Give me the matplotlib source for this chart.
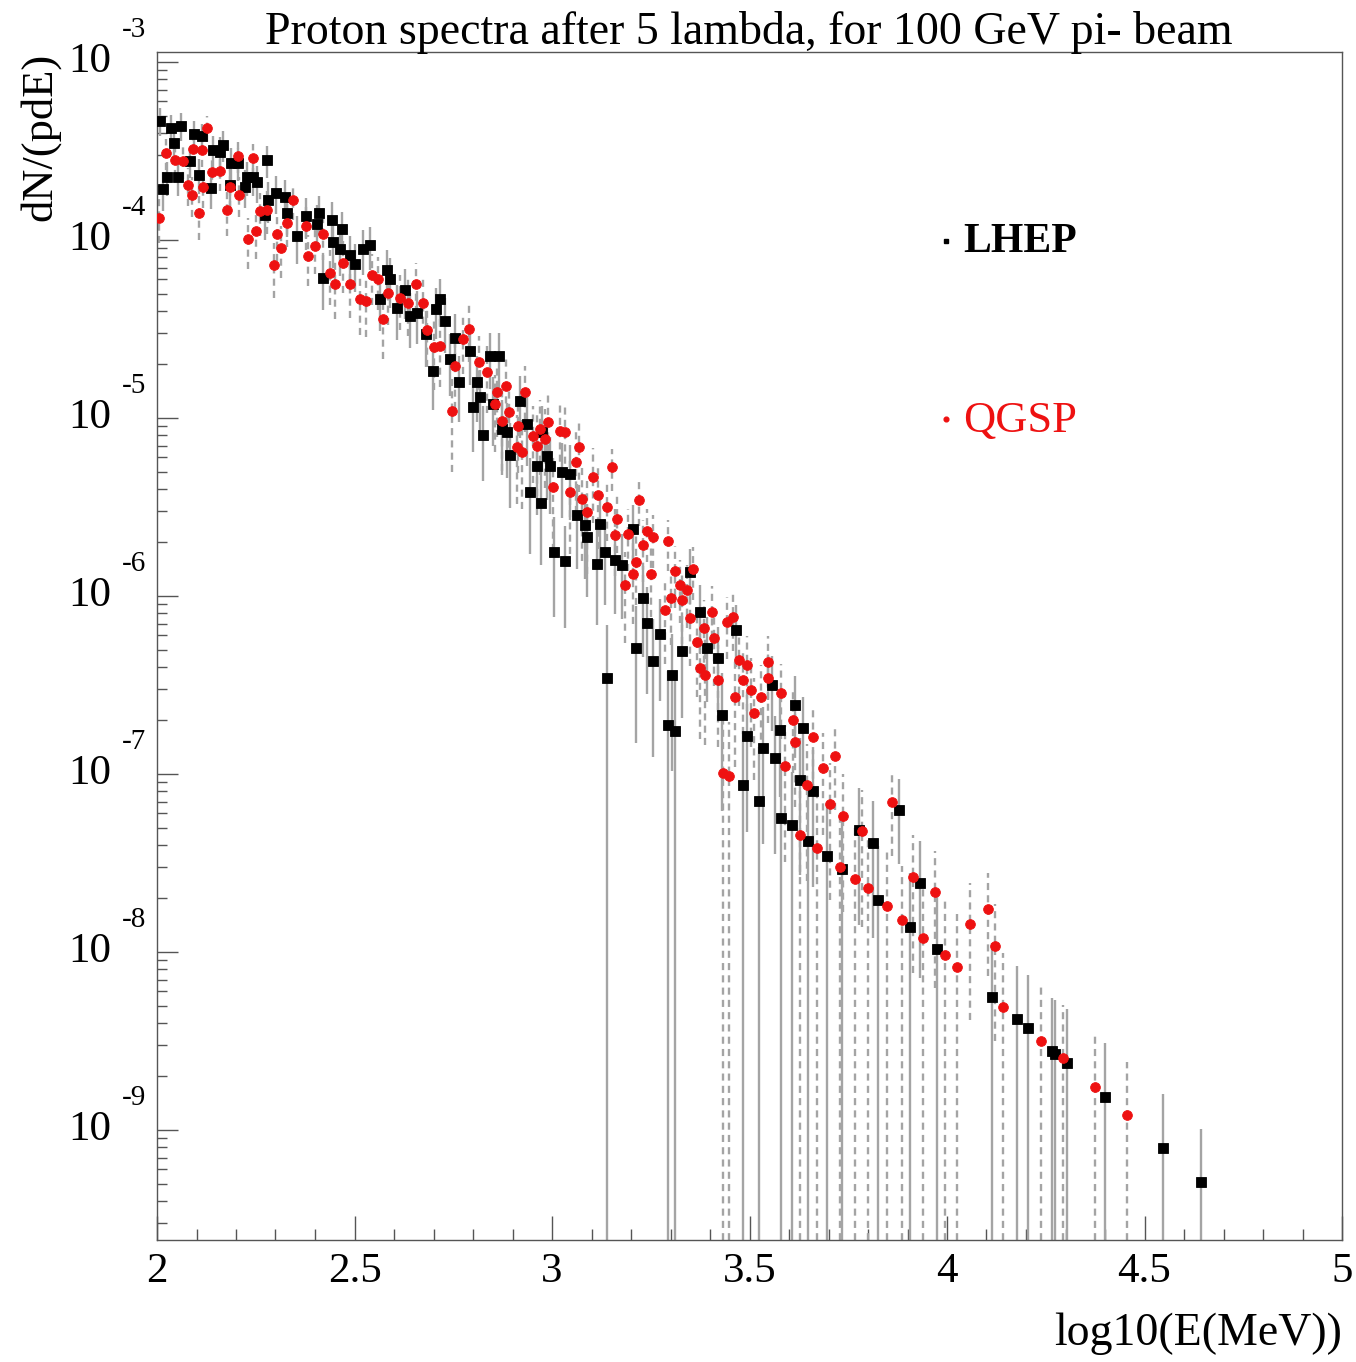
import numpy as np
import matplotlib
matplotlib.use("Agg")
import matplotlib.pyplot as plt
from matplotlib import transforms
from matplotlib.ticker import LogLocator, MultipleLocator, NullFormatter, FixedLocator

# ---------------- data ----------------
title = "Proton spectra after 5 lambda, for 100 GeV pi- beam"
xlabel = "log10(E(MeV))"
ylabel = "dN/(pdE)"
series_names = ["LHEP", "QGSP"]
x_ticks = [2, 2.5, 3, 3.5, 4, 4.5, 5]
x_tick_labels = ["2", "2.5", "3", "3.5", "4", "4.5", "5"]
y_decades = [-9, -8, -7, -6, -5, -4, -3]

# LHEP: log10(E) bin positions, log10(dN/(pdE)), relative errors
lhep_x = [2.008, 2.016, 2.026, 2.035, 2.043, 2.054, 2.062, 2.084, 2.094, 2.107,
          2.113, 2.136, 2.141, 2.159, 2.166, 2.185, 2.187, 2.206, 2.224, 2.227,
          2.242, 2.252, 2.273, 2.278, 2.282, 2.301, 2.324, 2.328, 2.354, 2.377,
          2.404, 2.411, 2.421, 2.442, 2.445, 2.463, 2.468, 2.489, 2.501, 2.522,
          2.539, 2.565, 2.583, 2.590, 2.607, 2.628, 2.641, 2.657, 2.681, 2.698,
          2.706, 2.716, 2.729, 2.742, 2.754, 2.765, 2.792, 2.799, 2.809, 2.818,
          2.825, 2.843, 2.851, 2.867, 2.873, 2.885, 2.894, 2.919, 2.936, 2.944,
          2.961, 2.971, 2.974, 2.987, 2.995, 3.005, 3.025, 3.033, 3.046, 3.063,
          3.084, 3.089, 3.113, 3.122, 3.134, 3.140, 3.159, 3.176, 3.204, 3.213,
          3.230, 3.240, 3.256, 3.273, 3.294, 3.303, 3.311, 3.328, 3.349, 3.375,
          3.392, 3.421, 3.430, 3.466, 3.484, 3.493, 3.525, 3.535, 3.556, 3.565,
          3.577, 3.581, 3.607, 3.615, 3.628, 3.636, 3.649, 3.662, 3.695, 3.733,
          3.778, 3.813, 3.826, 3.879, 3.906, 3.932, 3.974, 4.113, 4.176, 4.204,
          4.265, 4.273, 4.303, 4.400, 4.546, 4.643]
lhep_log10y = [-3.329, -3.713, -3.646, -3.371, -3.455, -3.646, -3.357, -3.555, -3.405, -3.633,
               -3.418, -3.708, -3.497, -3.503, -3.465, -3.689, -3.568, -3.568, -3.702, -3.646,
               -3.646, -3.676, -3.857, -3.553, -3.773, -3.736, -3.758, -3.848, -3.979, -3.863,
               -3.908, -3.848, -4.212, -3.885, -4.012, -4.053, -3.941, -4.087, -4.137, -4.053,
               -4.031, -4.333, -4.169, -4.221, -4.380, -4.281, -4.427, -4.408, -4.529, -4.735,
               -4.389, -4.333, -4.455, -4.669, -4.548, -4.800, -4.623, -4.940, -4.800, -4.884,
               -5.095, -4.651, -4.922, -4.654, -5.062, -5.080, -5.207, -4.903, -5.034, -5.416,
               -5.267, -5.478, -5.080, -5.211, -5.271, -5.752, -5.304, -5.805, -5.314, -5.547,
               -5.603, -5.668, -5.818, -5.594, -5.752, -6.462, -5.799, -5.827, -5.622, -6.290,
               -6.014, -6.154, -6.365, -6.216, -6.724, -6.444, -6.757, -6.309, -5.865, -6.089,
               -6.294, -6.350, -6.668, -6.191, -7.060, -6.789, -7.149, -6.854, -6.500, -6.910,
               -6.752, -7.246, -7.289, -6.612, -7.031, -6.742, -7.374, -7.097, -7.460, -7.535,
               -7.312, -7.385, -7.706, -7.203, -7.857, -7.611, -7.985, -8.253, -8.378, -8.429,
               -8.558, -8.571, -8.622, -8.815, -9.100, -9.293]
lhep_relerr = [0.18, 0.25, 0.22, 0.18, 0.20, 0.22, 0.18, 0.20, 0.18, 0.22,
               0.18, 0.24, 0.20, 0.20, 0.20, 0.24, 0.21, 0.21, 0.24, 0.22,
               0.22, 0.23, 0.28, 0.20, 0.26, 0.24, 0.25, 0.27, 0.30, 0.26,
               0.27, 0.25, 0.34, 0.25, 0.28, 0.29, 0.26, 0.29, 0.30, 0.28,
               0.27, 0.34, 0.30, 0.31, 0.34, 0.31, 0.34, 0.33, 0.35, 0.40,
               0.32, 0.30, 0.34, 0.38, 0.35, 0.40, 0.36, 0.44, 0.40, 0.42,
               0.45, 0.35, 0.42, 0.35, 0.45, 0.45, 0.50, 0.38, 0.42, 0.55,
               0.47, 0.55, 0.40, 0.44, 0.46, 0.57, 0.45, 0.58, 0.45, 0.50,
               0.50, 0.54, 0.55, 0.41, 0.50, 1.00, 0.50, 0.50, 0.35, 0.71,
               0.53, 0.60, 0.71, 0.58, 1.00, 0.71, 1.00, 0.58, 0.34, 0.42,
               0.50, 0.50, 0.71, 0.38, 1.00, 0.71, 1.00, 0.71, 0.45, 0.71,
               0.58, 1.00, 1.00, 0.45, 0.71, 0.50, 1.00, 0.71, 1.00, 1.00,
               0.71, 0.71, 1.00, 0.50, 1.00, 0.71, 1.00, 1.00, 1.00, 1.00,
               1.00, 1.00, 1.00, 1.00, 1.00, 1.00]

# QGSP
qgsp_x = [2.006, 2.023, 2.046, 2.067, 2.079, 2.088, 2.090, 2.107, 2.113, 2.116,
          2.126, 2.138, 2.159, 2.176, 2.185, 2.206, 2.208, 2.231, 2.242, 2.251,
          2.261, 2.278, 2.296, 2.305, 2.313, 2.328, 2.345, 2.377, 2.383, 2.400,
          2.421, 2.438, 2.451, 2.470, 2.489, 2.514, 2.529, 2.544, 2.560, 2.573,
          2.586, 2.615, 2.636, 2.656, 2.673, 2.683, 2.700, 2.716, 2.746, 2.754,
          2.775, 2.791, 2.814, 2.835, 2.856, 2.860, 2.873, 2.884, 2.892, 2.911,
          2.915, 2.923, 2.932, 2.953, 2.961, 2.970, 2.982, 2.991, 3.003, 3.019,
          3.033, 3.046, 3.061, 3.069, 3.075, 3.089, 3.103, 3.117, 3.139, 3.151,
          3.159, 3.165, 3.185, 3.193, 3.204, 3.213, 3.221, 3.231, 3.240, 3.250,
          3.256, 3.287, 3.294, 3.301, 3.311, 3.324, 3.328, 3.343, 3.349, 3.356,
          3.367, 3.375, 3.384, 3.387, 3.404, 3.409, 3.421, 3.433, 3.443, 3.449,
          3.459, 3.463, 3.474, 3.484, 3.493, 3.503, 3.511, 3.528, 3.547, 3.548,
          3.581, 3.590, 3.609, 3.615, 3.628, 3.645, 3.662, 3.670, 3.687, 3.704,
          3.716, 3.729, 3.737, 3.767, 3.784, 3.801, 3.847, 3.860, 3.885, 3.915,
          3.939, 3.970, 3.995, 4.026, 4.058, 4.105, 4.122, 4.143, 4.237, 4.294,
          4.375, 4.455]
qgsp_log10y = [-3.876, -3.512, -3.549, -3.559, -3.689, -3.745, -3.489, -3.848, -3.493, -3.702,
               -3.371, -3.620, -3.615, -3.833, -3.702, -3.527, -3.745, -3.997, -3.539, -3.951,
               -3.839, -3.829, -4.143, -3.964, -4.044, -3.904, -3.773, -3.919, -4.091, -4.035,
               -3.969, -4.184, -4.249, -4.128, -4.249, -4.333, -4.343, -4.199, -4.221, -4.445,
               -4.296, -4.324, -4.352, -4.249, -4.352, -4.505, -4.604, -4.595, -4.959, -4.707,
               -4.554, -4.498, -4.688, -4.744, -4.922, -4.856, -5.015, -4.819, -4.968, -5.164,
               -5.043, -5.193, -4.856, -5.099, -5.155, -5.062, -5.118, -5.020, -5.388, -5.071,
               -5.080, -5.416, -5.248, -5.164, -5.454, -5.528, -5.332, -5.435, -5.500, -5.276,
               -5.659, -5.566, -5.939, -5.650, -5.874, -5.809, -5.458, -5.715, -5.636, -5.874,
               -5.668, -6.079, -5.693, -6.014, -5.861, -5.939, -6.023, -5.967, -6.126, -5.846,
               -6.257, -6.406, -6.182, -6.442, -6.089, -6.238, -6.472, -6.995, -6.144, -7.010,
               -6.117, -6.565, -6.360, -6.472, -6.388, -6.528, -6.658, -6.565, -6.369, -6.462,
               -6.546, -6.957, -6.696, -6.821, -7.342, -7.063, -6.794, -7.417, -6.966, -7.171,
               -6.901, -7.524, -7.235, -7.589, -7.321, -7.642, -7.739, -7.160, -7.820, -7.578,
               -7.921, -7.664, -8.017, -8.086, -7.843, -7.756, -7.964, -8.307, -8.499, -8.597,
               -8.757, -8.918]
qgsp_relerr = [0.28, 0.20, 0.20, 0.20, 0.24, 0.25, 0.19, 0.30, 0.20, 0.24,
               0.17, 0.22, 0.22, 0.28, 0.24, 0.20, 0.25, 0.32, 0.20, 0.30,
               0.27, 0.27, 0.34, 0.30, 0.32, 0.27, 0.23, 0.27, 0.32, 0.30,
               0.28, 0.34, 0.36, 0.32, 0.35, 0.37, 0.37, 0.32, 0.33, 0.40,
               0.34, 0.34, 0.35, 0.31, 0.35, 0.38, 0.42, 0.41, 0.55, 0.43,
               0.37, 0.35, 0.40, 0.41, 0.46, 0.44, 0.48, 0.42, 0.46, 0.52,
               0.46, 0.52, 0.40, 0.46, 0.48, 0.45, 0.47, 0.42, 0.56, 0.43,
               0.43, 0.55, 0.48, 0.44, 0.55, 0.55, 0.45, 0.50, 0.36, 0.27,
               0.41, 0.36, 0.53, 0.38, 0.48, 0.43, 0.29, 0.38, 0.33, 0.43,
               0.33, 0.50, 0.32, 0.45, 0.38, 0.39, 0.43, 0.39, 0.46, 0.33,
               0.51, 0.60, 0.45, 0.60, 0.39, 0.46, 0.58, 1.00, 0.38, 1.00,
               0.36, 0.60, 0.45, 0.50, 0.45, 0.52, 0.58, 0.51, 0.39, 0.44,
               0.45, 0.71, 0.50, 0.57, 1.00, 0.71, 0.50, 1.00, 0.58, 0.71,
               0.50, 1.00, 0.71, 1.00, 0.71, 1.00, 1.00, 0.50, 1.00, 0.71,
               1.00, 0.71, 1.00, 1.00, 0.71, 0.58, 0.71, 1.00, 1.00, 1.00,
               1.00, 1.00]

# ---------------- figure ----------------
W, H = 1356, 1362
fig = plt.figure(figsize=(W / 100, H / 100), dpi=100)
SERIF = ["Liberation Serif", "DejaVu Serif"]
plt.rcParams["font.family"] = SERIF

L, R, T, B = 157, 1342, 52, 1240
ax = fig.add_axes([L / W, 1 - B / H, (R - L) / W, (B - T) / H])
ax.set_xlim(2, 5)
ax.set_yscale("log")
ax.set_ylim(10 ** -9.618, 10 ** -2.944)

grey = "#a4a4a4"
lw_err = 1.7
ymin_clip = 1e-14
RED = "#ee1111"


def draw(xs, logy, rel, color, marker, dashed, z):
    xs = np.asarray(xs)
    y = 10.0 ** np.asarray(logy)
    rel = np.asarray(rel)
    lo = np.where(rel >= 0.999, ymin_clip, y * (1 - rel))
    hi = y * (1 + rel)
    ls = (0, (3.0, 2.2)) if dashed else "solid"
    ax.vlines(xs, lo, hi, colors=grey, linewidth=lw_err, linestyles=ls, zorder=z)
    ax.plot(xs, y, linestyle="none", marker=marker, markersize=7.0,
            markerfacecolor=color, markeredgecolor=color, markeredgewidth=0.6,
            zorder=z + 2)


draw(lhep_x, lhep_log10y, lhep_relerr, "black", "s", False, 2)
draw(qgsp_x, qgsp_log10y, qgsp_relerr, RED, "o", True, 2.5)

# ---------------- axes styling (ROOT-like) ----------------
for sp in ax.spines.values():
    sp.set_color("#555555")
    sp.set_linewidth(1.0)

ax.xaxis.set_major_locator(FixedLocator(x_ticks))
ax.set_xticklabels(x_tick_labels)
ax.xaxis.set_minor_locator(MultipleLocator(0.1))
ax.tick_params(axis="x", which="major", direction="in", length=17, width=1.0,
               colors="#555555", labelcolor="black", labelsize=31, pad=9,
               top=False)
ax.tick_params(axis="x", which="minor", direction="in", length=8, width=1.0,
               colors="#555555", top=False)

ax.yaxis.set_major_locator(FixedLocator([10.0 ** k for k in y_decades]))
ax.yaxis.set_minor_locator(LogLocator(base=10, subs=np.arange(2, 10), numticks=30))
ax.yaxis.set_major_formatter(NullFormatter())
ax.yaxis.set_minor_formatter(NullFormatter())
ax.tick_params(axis="y", which="major", direction="in", length=15, width=1.0,
               colors="#555555", right=False)
ax.tick_params(axis="y", which="minor", direction="in", length=7.5, width=1.0,
               colors="#555555", right=False)

# y tick labels in ROOT style: "10" with exponent above-left
ytrans = transforms.blended_transform_factory(fig.transFigure, ax.transData)
for k in y_decades:
    ax.text(111 / W, 10.0 ** k, "10", transform=ytrans, ha="right", va="center",
            fontsize=31, color="black")
    ax.text(122 / W, 10.0 ** (k + 0.18), str(k), transform=ytrans, ha="left",
            va="center", fontsize=21, color="black")

# ---------------- labels ----------------
fig.text(749 / W, 1 - 33 / H, title, ha="center", va="center", fontsize=33,
         color="black")
fig.text(40 / W, 1 - 137 / H, ylabel, rotation=90, ha="center", va="center",
         fontsize=32, color="black")
fig.text(1342 / W, 1 - 1334 / H, xlabel, ha="right", va="center", fontsize=33,
         color="black")

# legend (text entries with small markers, as in the ROOT picture)
fig.text(963 / W, 1 - 242 / H, series_names[0], ha="left", va="center",
         fontsize=30, fontweight="bold", color="black")
fig.text(963 / W, 1 - 421 / H, series_names[1], ha="left", va="center",
         fontsize=32, color=RED)
fig.lines.append(plt.Line2D([946 / W], [1 - 241 / H], transform=fig.transFigure,
                            marker="s", markersize=3.4, color="black",
                            linestyle="none"))
fig.lines.append(plt.Line2D([946 / W], [1 - 419 / H], transform=fig.transFigure,
                            marker="o", markersize=3.4, color=RED,
                            linestyle="none"))

fig.savefig("out.png", dpi=100, facecolor="white")
